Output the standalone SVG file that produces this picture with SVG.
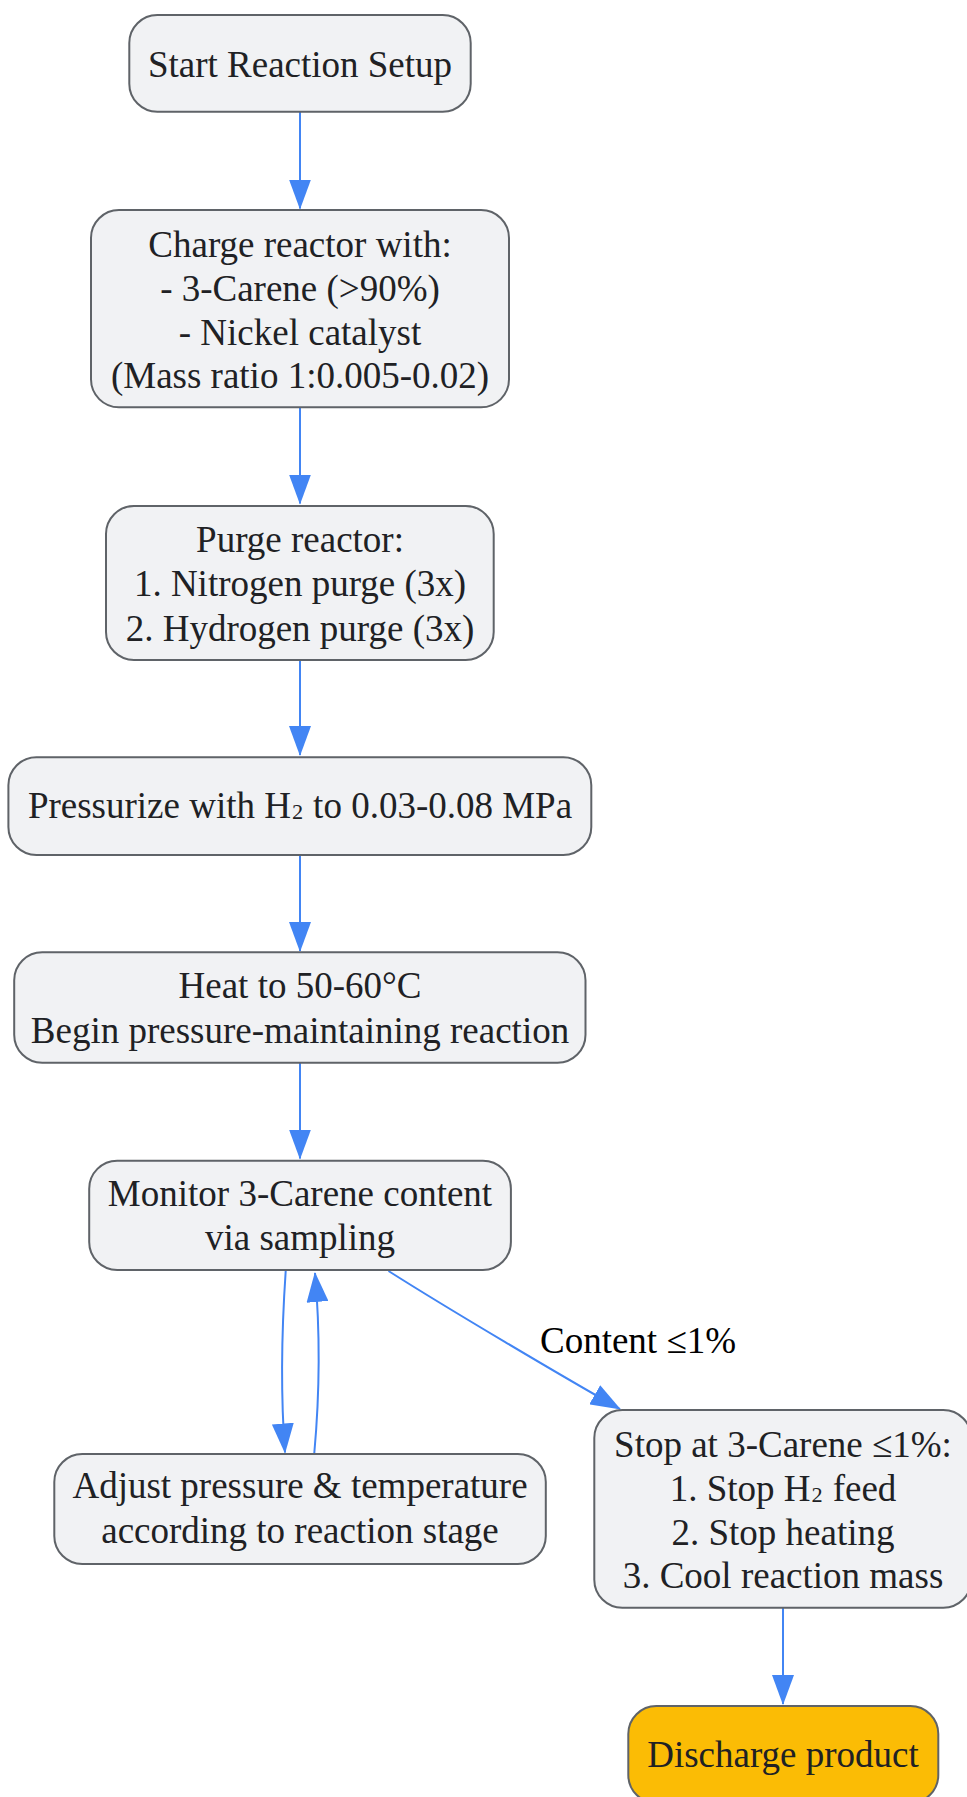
<svg xmlns="http://www.w3.org/2000/svg" width="967" height="1797" viewBox="0 0 967 1797">
<defs>
<marker id="arr" markerUnits="userSpaceOnUse" markerWidth="30" markerHeight="22" viewBox="0 0 30 22" refX="29" refY="11" orient="auto">
<path d="M0,0 L30,11 L0,22 z" fill="#4285f4"/>
</marker>
</defs>
<style>
.node rect{fill:#f1f2f4;stroke:#5f6368;stroke-width:2}
.node text{font-family:"Liberation Serif","Times New Roman",serif;font-size:37px;fill:#202124;text-anchor:middle}
.edge{fill:none;stroke:#4285f4;stroke-width:2;marker-end:url(#arr)}
.lbl{font-family:"Liberation Serif","Times New Roman",serif;font-size:37px;fill:#000;text-anchor:middle}
</style>
<rect width="967" height="1797" fill="#fff"/>
<g id="connectors">
<path class="edge" d="M300,112 L300,208.5"/>
<path class="edge" d="M300,407.5 L300,503.5"/>
<path class="edge" d="M300,660 L300,755"/>
<path class="edge" d="M300,855 L300,951"/>
<path class="edge" d="M300,1063 L300,1158.5"/>
<path class="edge" d="M285.7,1271 C281,1340 281,1400 285,1452.5"/>
<path class="edge" d="M314.3,1453 C320,1390 320,1330 315,1273"/>
<path class="edge" d="M388.5,1271 C450,1310 560,1375 620,1409"/>
<path class="edge" d="M783,1608 L783,1704"/>
<text class="lbl" x="638" y="1353">Content ≤1%</text>
</g>
<g id="start" class="node">
<rect x="129.3" y="15" width="341.4" height="96.7" rx="28"/>
<text x="300" y="77">Start Reaction Setup</text>
</g>
<g id="charge" class="node">
<rect x="91" y="210" width="418" height="197.3" rx="28"/>
<text x="300" y="256.7">Charge reactor with:</text>
<text x="300" y="300.5">- 3-Carene (&gt;90%)</text>
<text x="300" y="344.5">- Nickel catalyst</text>
<text x="300" y="388.3">(Mass ratio 1:0.005-0.02)</text>
</g>
<g id="purge" class="node">
<rect x="106" y="506" width="387.7" height="154" rx="28"/>
<text x="300" y="551.7">Purge reactor:</text>
<text x="300" y="596">1. Nitrogen purge (3x)</text>
<text x="300" y="640.5">2. Hydrogen purge (3x)</text>
</g>
<g id="pressurize" class="node">
<rect x="8.4" y="757.3" width="582.9" height="97.7" rx="28"/>
<text x="300" y="818.3">Pressurize with H<tspan dy="-6">₂</tspan><tspan dy="6"> to 0.03-0.08 MPa</tspan></text>
</g>
<g id="heat" class="node">
<rect x="14.2" y="952.3" width="571.3" height="110.4" rx="28"/>
<text x="300" y="998.3">Heat to 50-60°C</text>
<text x="300" y="1042.7">Begin pressure-maintaining reaction</text>
</g>
<g id="monitor" class="node">
<rect x="89.2" y="1160.7" width="421.7" height="109.3" rx="28"/>
<text x="300" y="1206">Monitor 3-Carene content</text>
<text x="300" y="1250">via sampling</text>
</g>
<g id="adjust" class="node">
<rect x="54.3" y="1454" width="491.5" height="110" rx="28"/>
<text x="300" y="1498.3">Adjust pressure &amp; temperature</text>
<text x="300" y="1543.3">according to reaction stage</text>
</g>
<g id="stop" class="node">
<rect x="594.3" y="1410" width="377" height="197.7" rx="28"/>
<text x="783" y="1456.7">Stop at 3-Carene ≤1%:</text>
<text x="783" y="1500.7">1. Stop H<tspan dy="-6">₂</tspan><tspan dy="6"> feed</tspan></text>
<text x="783" y="1545">2. Stop heating</text>
<text x="783" y="1588.3">3. Cool reaction mass</text>
</g>
<g id="discharge" class="node">
<rect x="628.3" y="1706" width="310" height="97" rx="28" style="fill:#fbbc05"/>
<text x="783" y="1766.7">Discharge product</text>
</g>
</svg>
